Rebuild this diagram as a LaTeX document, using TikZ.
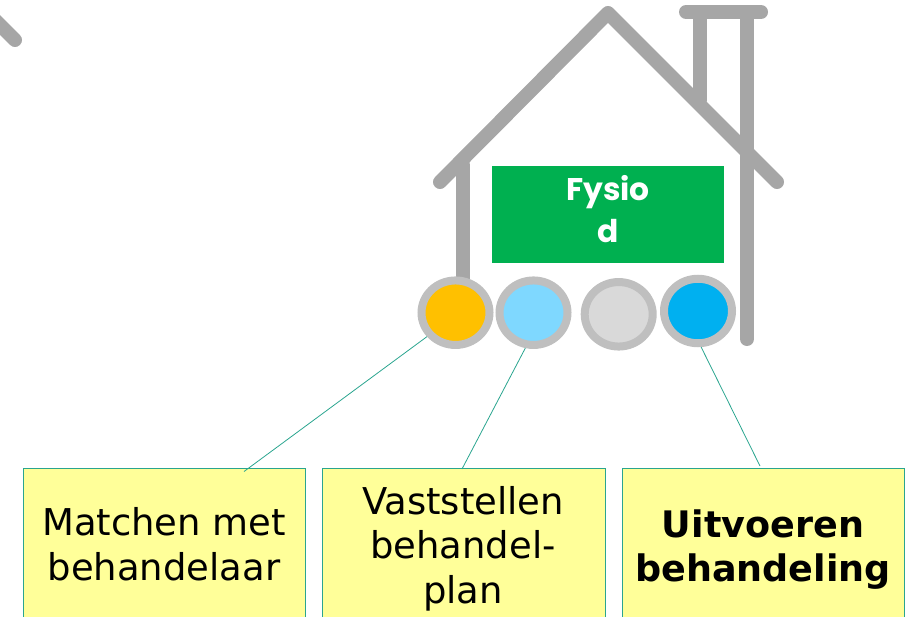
\documentclass[tikz,border=0pt]{standalone}
\usepackage{fontspec}
\usetikzlibrary{shapes.geometric}
\setmainfont{DejaVu Sans}
\newfontfamily\titlefont{Poppins}
\definecolor{roofgrey}{HTML}{A6A6A6}
\definecolor{ringgrey}{HTML}{BFBFBF}
\definecolor{boxgreen}{HTML}{00B050}
\definecolor{boxyellow}{HTML}{FFFF99}
\definecolor{tealline}{HTML}{2AA58F}
\definecolor{dotorange}{HTML}{FFC000}
\definecolor{dotlight}{HTML}{7FD8FF}
\definecolor{dotgrey}{HTML}{D9D9D9}
\definecolor{dotblue}{HTML}{00B0F0}
\tikzset{
  x=0.75pt,y=-0.75pt,
  house/.style={draw=roofgrey,line width=10.5pt,line cap=round,line join=round},
  dot/.style={ellipse,draw=ringgrey,line width=6pt,minimum width=68*0.75pt,minimum height=64.5*0.75pt,inner sep=0pt},
  label/.style={draw=tealline,line width=0.6pt,fill=boxyellow,anchor=north west,minimum height=170*0.75pt,inner sep=0pt},
  link/.style={draw=tealline,line width=0.6pt},
  plain/.style={font=\fontsize{27.7}{33.5}\selectfont,align=center,inner sep=0pt},
  strong/.style={font=\fontsize{27.4}{33.5}\selectfont\bfseries,align=center,inner sep=0pt}
}
\begin{document}
\begin{tikzpicture}
\useasboundingbox (0,0) rectangle (907,617);
\begin{scope}
\clip (0,0) rectangle (907,617);
\draw[house] (-10,15) -- (15,40);
\draw[house] (440,182) -- (608,13) -- (777,182);
\draw[house] (463,165) -- (463,290);
\draw[house] (747,14) -- (747,339);
\draw[house] (700,14) -- (700,100);
\draw[house] (686,12) -- (761,12);
\node[fill=boxgreen,minimum width=232*0.75pt,minimum height=97*0.75pt,inner sep=0pt] (title) at (608,214.5) {};
\node[text=white,font=\fontsize{23.5}{31.5}\selectfont\titlefont\bfseries,align=center,inner sep=0pt] (titletext) at (608,209.5) {Fysio\\d};
\node[dot,fill=dotorange] (d1) at (455.5,312.7) {};
\node[dot,fill=dotlight] (d2) at (533.5,312.7) {};
\node[dot,fill=dotgrey] (d3) at (618.7,314.3) {};
\node[dot,fill=dotblue] (d4) at (698,311) {};
\node[label,minimum width=282*0.75pt] (b1) at (23,468) {};
\node[label,minimum width=283*0.75pt] (b2) at (322,468) {};
\node[label,minimum width=282*0.75pt] (b3) at (622,468) {};
\node[plain] (t1) at (164,544.5) {Matchen met\\behandelaar};
\node[plain] (t2) at (463,548.5) {Vaststellen\\behandel-\\plan};
\node[strong] (t3) at (763,549.5) {Uitvoeren\\behandeling};
\coordinate (e1) at (244,471.5);
\coordinate (e2) at (462,469);
\coordinate (e3) at (760,466);
\draw[link] (d1.220) -- (e1);
\draw[link] (d2.257) -- (e2);
\draw[link] (d4.275) -- (e3);
\end{scope}
\end{tikzpicture}
\end{document}
